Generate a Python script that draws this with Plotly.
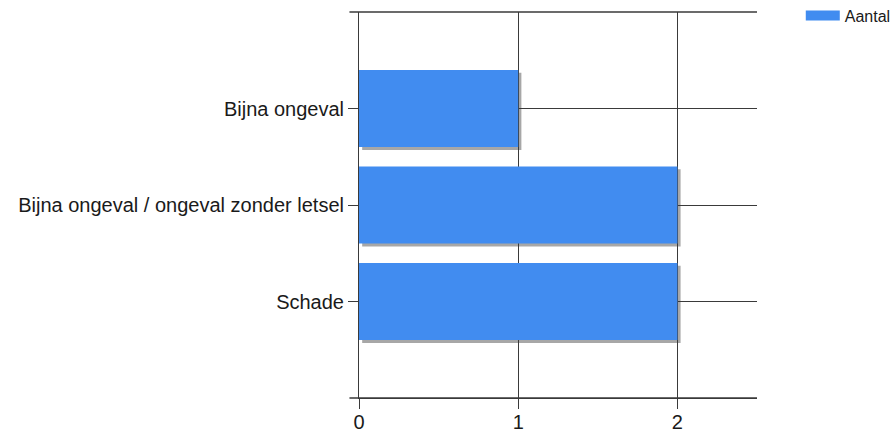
import plotly.graph_objects as go

categories = ["Schade", "Bijna ongeval / ongeval zonder letsel", "Bijna ongeval"]
aantal = [2, 2, 1]
x_ticks = [0, 1, 2]
series_name = "Aantal"

BAR_COLOR = "#418CF0"
GRID = "#3a3a3a"
FONT = "Liberation Sans, Arial, sans-serif"

fig = go.Figure()

# soft drop shadow behind bars
fig.add_trace(go.Bar(
    y=categories, x=aantal, orientation="h",
    base=0.02, width=0.8, offset=-0.43,
    marker=dict(color="rgba(60,60,60,0.45)", line=dict(width=0)),
    showlegend=False, hoverinfo="skip",
))
fig.add_trace(go.Bar(
    y=categories, x=aantal, orientation="h", name=series_name,
    width=0.8, showlegend=False,
    marker=dict(color=BAR_COLOR, line=dict(width=0)),
))
# legend entry drawn as a wide swatch (legend only)
fig.add_trace(go.Scatter(
    x=[None], y=[None], mode="lines", name=series_name,
    line=dict(color=BAR_COLOR, width=14),
    hoverinfo="skip",
))

fig.update_layout(
    width=893, height=433,
    margin=dict(l=359, r=136, t=12, b=35, autoexpand=False),
    paper_bgcolor="white", plot_bgcolor="white",
    barmode="overlay",
    font=dict(family=FONT, size=20, color="#1a1a1a"),
    showlegend=True,
    legend=dict(x=1.11, y=1.035, xanchor="left", yanchor="top",
                itemwidth=34,
                font=dict(size=16, color="#1a1a1a"),
                bgcolor="rgba(0,0,0,0)", borderwidth=0),
    xaxis=dict(range=[0, 2.5], tickvals=x_ticks, showgrid=True, gridcolor=GRID, gridwidth=1,
               zeroline=False, showline=True, linecolor=GRID, linewidth=1,
               ticks="outside", ticklen=10, tickcolor=GRID, tickwidth=1, automargin=False,
               ticklabelstandoff=-4),
    yaxis=dict(type="category", categoryorder="array", categoryarray=categories,
               range=[-1, 3], showgrid=True, gridcolor=GRID, gridwidth=1,
               showline=True, linecolor=GRID, linewidth=1, automargin=False,
               ticks="outside", ticklen=10, tickcolor=GRID, tickwidth=1),
    shapes=[
        dict(type="line", xref="paper", yref="paper", x0=-0.024, x1=1, y0=1, y1=1,
             line=dict(color=GRID, width=1.5)),
        dict(type="line", xref="paper", yref="paper", x0=-0.024, x1=1, y0=0, y1=0,
             line=dict(color=GRID, width=1.5)),
    ],
)

fig.write_html("out.html", config={"displayModeBar": False},
               post_script="document.body.style.margin='0';")
